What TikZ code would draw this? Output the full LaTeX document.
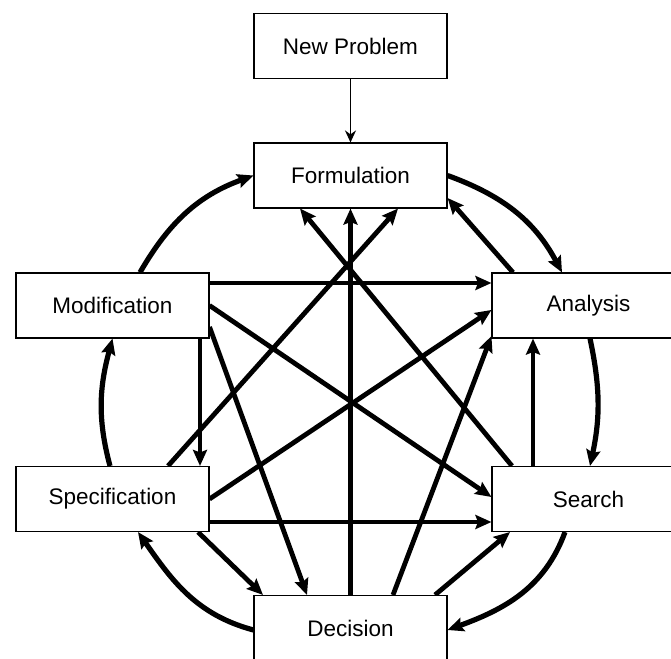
\documentclass[tikz,border=0pt]{standalone}
\usepackage{fontspec}
\setmainfont{Liberation Sans}
\usetikzlibrary{arrows.meta}
\pgfdeclarelayer{background}
\pgfsetlayers{background,main}

\begin{document}
\begin{tikzpicture}[x=1pt,y=1pt,node distance=129.5pt,->,>={Stealth[length=16pt,width=14pt,inset=2.5pt]}]
 % styles
 \tikzstyle{stage} = [rectangle,draw=black,line width=1.1pt,fill=white,minimum width=193pt,minimum height=65pt,inner sep=0pt,font=\fontsize{22.5}{27}\selectfont];
 \tikzstyle{flow} = [line width=4.8pt];
 \tikzstyle{ring} = [line width=5.2pt];

 \useasboundingbox (0,0) rectangle (671,658);

 % nodes
 \node[stage] (form) at (350.5,482.5) {Formulation};
 \node[stage,above of=form] (newp) {New Problem};
 \node[stage] (modi) at (112.5,352.5) {Modification};
 \node[stage,below of=modi,node distance=193.5pt] (spec) {Specification};
 \node[stage] (anal) at (588.5,352.5) {Analysis};
 \node[stage,below of=anal,node distance=193.5pt] (sear) {Search};
 \node[stage] (deci) at (350.5,30) {Decision};

 \begin{pgfonlayer}{background}
 % outer cycle
 \path [ring] ([xshift=27.5pt]modi.north) edge [out=60,in=200] (form.west);
 \path [ring] (form.east) edge [out=-20,in=118] ([xshift=-26.5pt]anal.north);
 \path [ring] ([xshift=1.5pt]anal.south) edge [out=-78,in=78] ([xshift=1.5pt]sear.north);
 \path [ring] ([xshift=-23.5pt]sear.south) edge [out=250,in=20] ([yshift=-2pt]deci.east);
 \path [ring] ([yshift=-2pt]deci.west) edge [out=165,in=-55] ([xshift=25.5pt]spec.south);
 \path [ring] ([xshift=-2.5pt]spec.north) edge [out=105,in=-105] (modi.south);

 % inner flows
 \path [line width=1.6pt,-{Stealth[length=12pt,width=11pt]}] (newp) edge (form);
 \path [flow] (deci) edge (form);
 \path [flow] ([xshift=-76.5pt]sear.north) edge ([xshift=-50.5pt]form.south);
 \path [flow] ([xshift=55.5pt]spec.north) edge ([xshift=47.5pt]form.south);
 \path [flow] ([xshift=-75.5pt]anal.north) edge ([yshift=-22.5pt]form.east);

 \path [flow] ([yshift=22.5pt]modi.east) edge ([yshift=22.5pt]anal.west);
 \path [flow] (modi.east) edge ([yshift=2pt]sear.west);
 \path [flow] ([yshift=-21.5pt]modi.east) edge ([xshift=-43.5pt]deci.north);
 \path [flow] ([xshift=87.5pt]modi.south) edge ([xshift=87.5pt]spec.north);

 \path [flow] (spec.east) edge ([yshift=-4.5pt]anal.west);
 \path [flow] ([yshift=-23pt]spec.east) edge ([yshift=-23pt]sear.west);
 \path [flow] ([xshift=85.5pt]spec.south) edge ([xshift=-87.5pt]deci.north);

 \path [flow] ([xshift=42.5pt]deci.north) edge ([yshift=-30.5pt]anal.west);
 \path [flow] ([xshift=84.5pt]deci.north) edge ([xshift=-78.5pt]sear.south);
 \path [flow] ([xshift=-55.5pt]sear.north) edge ([xshift=-55.5pt]anal.south);
 \end{pgfonlayer}
\end{tikzpicture}
\end{document}
